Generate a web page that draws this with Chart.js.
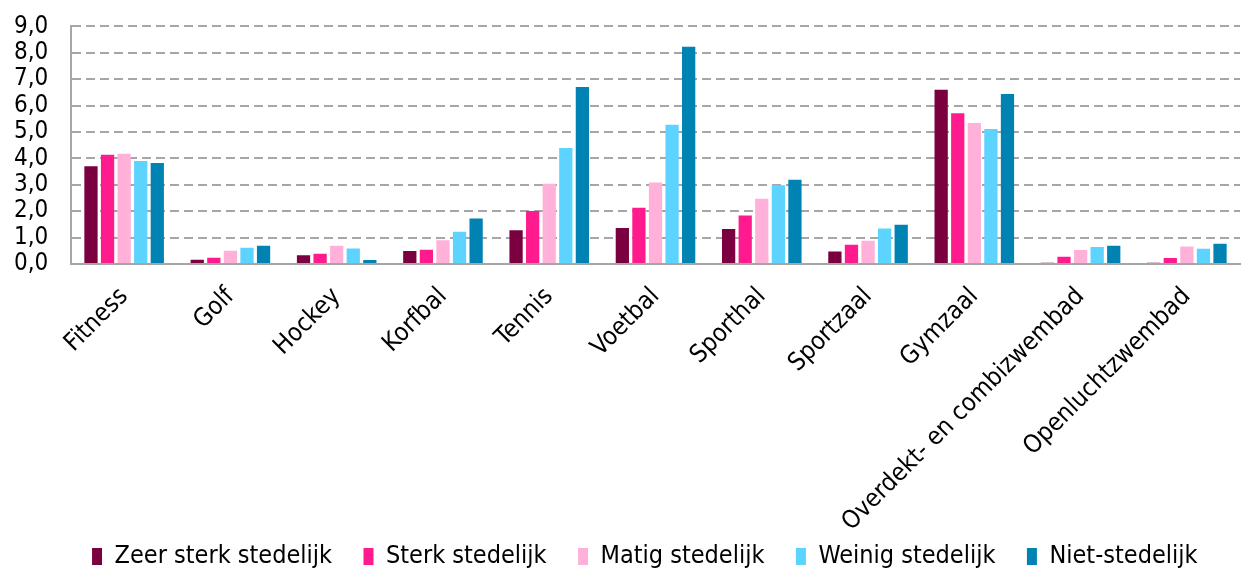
<!DOCTYPE html>
<html lang="nl">
<head>
    <meta charset="UTF-8">
    <title>Sportaccommodaties naar stedelijkheid</title>
    <style>
        html, body { margin: 0; padding: 0; background: #fff; }
        .chart-container { width: 1243px; height: 568px; }
    </style>
</head>
<body>
    <div class="chart-container">
        <canvas id="barChart"></canvas>
    </div>

    <script src="https://cdn.jsdelivr.net/npm/chart.js"></script>
    <script>
        const categories = ['Fitness', 'Golf', 'Hockey', 'Korfbal', 'Tennis', 'Voetbal', 'Sporthal',
            'Sportzaal', 'Gymzaal', 'Overdekt- en combizwembad', 'Openluchtzwembad'];

        const zeerSterk = [3.70, 0.16, 0.33, 0.49, 1.28, 1.36, 1.33, 0.47, 6.60, 0.05, 0.05];
        const sterk     = [4.14, 0.24, 0.39, 0.54, 2.01, 2.13, 1.84, 0.73, 5.71, 0.27, 0.23];
        const matig     = [4.18, 0.50, 0.69, 0.90, 3.04, 3.09, 2.47, 0.88, 5.34, 0.53, 0.66];
        const weinig    = [3.90, 0.62, 0.59, 1.22, 4.39, 5.27, 2.98, 1.34, 5.11, 0.64, 0.58];
        const niet      = [3.83, 0.69, 0.15, 1.72, 6.70, 8.23, 3.19, 1.49, 6.44, 0.69, 0.77];

        const seriesLabels = ['Zeer sterk stedelijk', 'Sterk stedelijk', 'Matig stedelijk', 'Weinig stedelijk', 'Niet-stedelijk'];
        const colors = ['#7b003f', '#ff1b8d', '#ffb1d9', '#5dd3ff', '#0083b3'];

        const font = "'DejaVu Sans Condensed', 'DejaVu Sans', sans-serif";

        const ctx = document.getElementById('barChart').getContext('2d');
        new Chart(ctx, {
            type: 'bar',
            data: {
                labels: categories,
                datasets: [zeerSterk, sterk, matig, weinig, niet].map((values, i) => ({
                    label: seriesLabels[i],
                    data: values,
                    backgroundColor: colors[i],
                    categoryPercentage: 0.78,
                    barPercentage: 0.8
                }))
            },
            options: {
                responsive: true,
                maintainAspectRatio: false,
                animation: false,
                // negative bottom pulls the legend row lower, like the original
                layout: { padding: { left: 14, right: 3, top: 0, bottom: -11 } },
                plugins: {
                    tooltip: { enabled: false },
                    legend: {
                        position: 'bottom',
                        fullSize: false,
                        labels: {
                            font: { family: font, size: 25 },
                            color: '#000',
                            boxWidth: 10,
                            boxHeight: 17,
                            padding: 10,
                            // extra gap between items without a taller legend row
                            generateLabels: chart => {
                                const items = Chart.defaults.plugins.legend.labels.generateLabels(chart);
                                items.forEach(item => { item.text += '   '; });
                                return items;
                            }
                        }
                    }
                },
                scales: {
                    x: {
                        grid: { display: false },
                        border: { color: '#a6a6a6', width: 2 },
                        ticks: {
                            font: { family: font, size: 25 },
                            color: '#000',
                            padding: 10,
                            maxRotation: 45,
                            minRotation: 45,
                            autoSkip: false
                        },
                        afterFit: scale => { scale.height = 270; }
                    },
                    y: {
                        min: 0,
                        max: 9,
                        grid: {
                            color: '#a6a6a6',
                            lineWidth: 2,
                            drawTicks: false
                        },
                        border: { color: '#a6a6a6', width: 2, dash: [9, 5] },
                        ticks: {
                            stepSize: 1,
                            autoSkip: false,
                            padding: 12,
                            crossAlign: 'far',
                            font: { family: font, size: 24 },
                            color: '#000',
                            callback: v => v.toFixed(1).replace('.', ',')
                        },
                        afterFit: scale => { scale.width = 57; }
                    }
                }
            }
        });
    </script>
</body>
</html>
